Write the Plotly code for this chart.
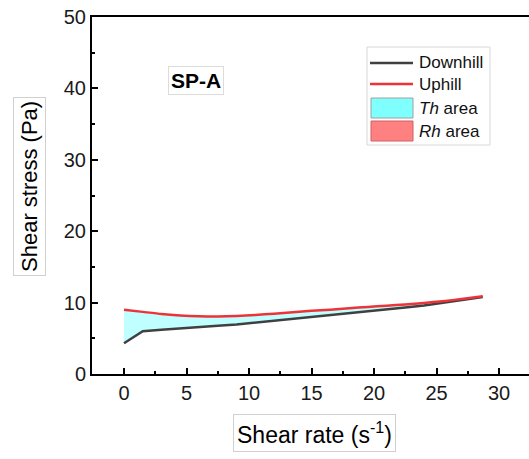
import plotly.graph_objects as go

# Flow curve data for sample SP-A
shear_rate = [0, 1.5, 3.0, 4.5, 6.0, 7.5, 9.0, 10.5, 12.0, 13.5, 15.0,
              16.5, 18.0, 19.5, 21.0, 22.5, 24.0, 25.5, 27.0, 28.7]
downhill = [4.3, 6.0, 6.2, 6.35, 6.55, 6.75, 6.95, 7.2, 7.45, 7.7, 7.95,
            8.2, 8.5, 8.75, 9.0, 9.3, 9.6, 9.95, 10.3, 10.8]
uphill = [9.0, 8.7, 8.4, 8.2, 8.08, 8.05, 8.12, 8.27, 8.45, 8.65, 8.85,
          9.0, 9.2, 9.4, 9.55, 9.75, 9.95, 10.2, 10.5, 10.9]

x_ticks = [0, 5, 10, 15, 20, 25, 30]
y_ticks = [0, 10, 20, 30, 40, 50]

W, H = 529, 459
L, R, T, B = 92, 529, 17, 374   # plot area in pixels


def px(x):
    return (x - L) / (R - L)


def py(y):
    return (B - y) / (B - T)


FONT = "Liberation Sans, Arial, sans-serif"
CYAN_FILL = "rgba(128,255,255,0.5)"
CYAN_KEY = "#80FFFF"
RED_KEY = "#FF8080"
DOWN_COL = "#404040"
UP_COL = "#EE3338"

DOWN_LINE = dict(shape="linear")
UP_LINE = dict(shape="spline", smoothing=0.6)

fig = go.Figure()

# thixotropic area between the two curves
fig.add_trace(go.Scatter(x=shear_rate, y=downhill, mode="lines",
                         line=dict(width=0, color=DOWN_COL, **DOWN_LINE),
                         showlegend=False, hoverinfo="skip"))
fig.add_trace(go.Scatter(x=shear_rate, y=uphill, mode="lines",
                         line=dict(width=0, color=UP_COL, **UP_LINE),
                         fill="tonexty", fillcolor=CYAN_FILL,
                         showlegend=False, hoverinfo="skip"))

# curves
fig.add_trace(go.Scatter(x=shear_rate, y=downhill, mode="lines",
                         line=dict(width=2.5, color=DOWN_COL, **DOWN_LINE),
                         name="Downhill", showlegend=False))
fig.add_trace(go.Scatter(x=shear_rate, y=uphill, mode="lines",
                         line=dict(width=2.5, color=UP_COL, **UP_LINE),
                         name="Uphill", showlegend=False))

shapes = []
annotations = []

# legend frame
shapes.append(dict(type="rect", xref="paper", yref="paper",
                   x0=px(367), x1=px(490), y0=py(145), y1=py(47),
                   line=dict(color="#d8d8d8", width=1), fillcolor="white",
                   layer="below"))

legend_items = [
    ("line", DOWN_COL, "Downhill", 63),
    ("line", UP_COL, "Uphill", 84),
    ("rect", CYAN_KEY, "<i>Th</i> area", 108),
    ("rect", RED_KEY, "<i>Rh</i> area", 131),
]
for kind, col, label, yc in legend_items:
    if kind == "line":
        shapes.append(dict(type="line", xref="paper", yref="paper",
                           x0=px(370), x1=px(413), y0=py(yc), y1=py(yc),
                           line=dict(color=col, width=2.5)))
    else:
        edge = "#a0a0a0" if col == CYAN_KEY else "#d06060"
        shapes.append(dict(type="rect", xref="paper", yref="paper",
                           x0=px(371), x1=px(413), y0=py(yc + 10), y1=py(yc - 10),
                           line=dict(color=edge, width=1), fillcolor=col))
    annotations.append(dict(x=px(417), y=py(yc), xref="paper", yref="paper",
                            text=label, showarrow=False, xanchor="left",
                            yanchor="middle",
                            font=dict(family=FONT, size=17, color="#111")))

# sample label
annotations.append(dict(x=px(196), y=py(80), xref="paper", yref="paper",
                        text="<b>SP-A</b>", showarrow=False,
                        xanchor="center", yanchor="middle",
                        font=dict(family=FONT, size=21, color="black"),
                        bordercolor="#dcdcdc", borderwidth=1, borderpad=2))

# axis titles in framed boxes
annotations.append(dict(x=px(29), y=py(187), xref="paper", yref="paper",
                        text="Shear stress (Pa)", showarrow=False,
                        textangle=-90, xanchor="center", yanchor="middle",
                        font=dict(family=FONT, size=22, color="black"),
                        bordercolor="#d0d0d0", borderwidth=1, borderpad=3))
annotations.append(dict(x=px(314), y=py(433), xref="paper", yref="paper",
                        text="Shear rate (s<sup>-1</sup>)", showarrow=False,
                        xanchor="center", yanchor="middle",
                        font=dict(family=FONT, size=23, color="black"),
                        bordercolor="#d0d0d0", borderwidth=1, borderpad=3))

fig.update_layout(
    width=W, height=H,
    margin=dict(l=L, r=W - R, t=T, b=H - B),
    paper_bgcolor="white", plot_bgcolor="white",
    shapes=shapes, annotations=annotations,
    showlegend=False,
)

fig.update_xaxes(
    range=[(L - 124) / 12.5, (R - 124) / 12.5],
    tickmode="array", tickvals=x_ticks, ticktext=[str(v) for v in x_ticks],
    ticks="inside", ticklen=6, tickwidth=2, tickcolor="black",
    minor=dict(ticks="inside", dtick=2.5, tick0=0, ticklen=3, tickwidth=2,
               tickcolor="black"),
    showline=True, linewidth=2, linecolor="black", mirror=True,
    showgrid=False, zeroline=False,
    tickfont=dict(family=FONT, size=20, color="#1a1a1a"),
)
fig.update_yaxes(
    range=[0, 50],
    tickmode="array", tickvals=y_ticks, ticktext=[str(v) for v in y_ticks],
    ticks="inside", ticklen=6, tickwidth=2, tickcolor="black",
    minor=dict(ticks="inside", dtick=5, tick0=0, ticklen=3, tickwidth=2,
               tickcolor="black"),
    showline=True, linewidth=2, linecolor="black",
    showgrid=False, zeroline=False,
    tickfont=dict(family=FONT, size=20, color="#1a1a1a"),
)

fig.write_html("out.html")
